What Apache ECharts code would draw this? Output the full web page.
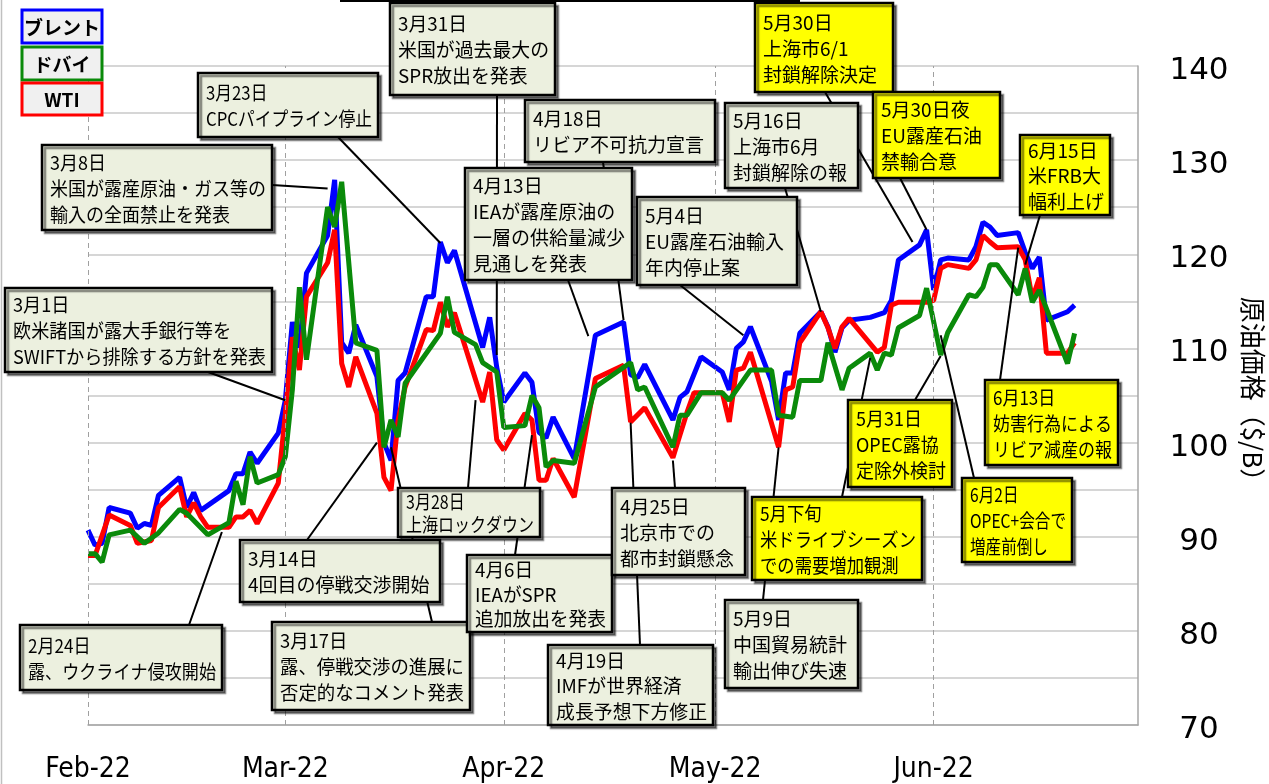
<!DOCTYPE html>
<html>
<head>
<meta charset="utf-8">
<script src="https://cdn.jsdelivr.net/npm/echarts@6/dist/echarts.min.js"></script>
<style>
  html, body { margin: 0; padding: 0; background: #fff; }
  #chart { width: 1269px; height: 784px; }
</style>
</head>
<body>
<div id="chart"></div>
<script>
const YEAR = '2022-';
const seriesNames = ['ブレント', 'ドバイ', 'WTI'];
const monthStarts = ['02-01', '03-01', '04-01', '05-01', '06-01'];
const monthLabels = ['Feb-22', 'Mar-22', 'Apr-22', 'May-22', 'Jun-22'];
const yLabels = [70, 80, 90, 100, 110, 120, 130, 140];

const brentDates = ['02-01','02-02','02-03','02-04','02-07','02-08','02-09','02-10','02-11','02-14','02-15','02-16','02-17','02-21','02-22','02-23','02-24','02-25','02-28',
  '03-01','03-02','03-03','03-04','03-07','03-08','03-09','03-10','03-11','03-14','03-15','03-16','03-17','03-18','03-21','03-22','03-23','03-24','03-25','03-29','03-30','03-31',
  '04-01','04-04','04-05','04-06','04-07','04-08','04-11','04-14','04-18','04-19','04-20','04-21','04-25','04-26','04-27','04-29',
  '05-02','05-03','05-04','05-05','05-06','05-09','05-10','05-11','05-12','05-13','05-16','05-17','05-18','05-19','05-20','05-23','05-25','05-26','05-27','05-30','05-31',
  '06-01','06-02','06-03','06-06','06-07','06-08','06-09','06-10','06-13','06-14','06-15','06-16','06-17','06-20','06-21'];
const brentValues = [90.7,89.1,89.3,93.1,92.5,90.9,91.4,91.2,94.4,96.3,93.1,94.7,92.8,94.9,96.7,96.7,99.0,97.8,101.0,
  104.5,112.8,110.1,118.0,122.0,127.9,110.6,109.5,112.5,107.0,100.0,98.1,106.6,107.4,115.5,115.5,121.3,119.1,120.4,110.1,113.3,108.0,
  104.3,107.4,106.4,101.1,100.5,102.7,98.3,111.4,112.8,107.2,106.9,108.3,102.4,104.8,105.4,109.1,
  107.5,105.6,110.0,110.7,112.3,106.5,102.4,107.4,107.4,111.6,113.9,112.3,109.6,112.2,113.0,113.3,113.8,115.1,119.4,121.0,122.6,
  116.2,119.4,119.6,119.4,120.8,123.4,122.9,122.0,122.3,120.2,118.5,119.7,113.0,113.9,114.6];

const dubaiDates = ['02-01','02-02','02-03','02-04','02-07','02-09','02-11','02-14','02-15','02-18','02-21','02-22','02-23','02-24','02-25','02-28',
  '03-01','03-02','03-03','03-04','03-07','03-08','03-09','03-11','03-14','03-15','03-16','03-17','03-18','03-23','03-24','03-25','03-28','03-29','03-31',
  '04-01','04-04','04-05','04-06','04-07','04-08','04-11','04-14','04-19','04-20','04-21','04-25','04-26','04-27','04-29',
  '05-02','05-03','05-06','05-09','05-10','05-12','05-13','05-16','05-17','05-19','05-20','05-23','05-24','05-25','05-26','05-27','05-30','05-31',
  '06-02','06-03','06-06','06-07','06-08','06-09','06-10','06-13','06-14','06-15','06-16','06-20','06-21'];
const dubaiValues = [88.2,88.2,87.3,90.2,90.7,89.3,90.4,92.9,92.5,90.2,91.5,95.9,93.4,98.5,95.7,96.6,
  98.5,105.6,116.5,108.8,125.0,122.9,127.7,110.6,109.8,99.5,102.4,100.6,106.3,111.6,115.5,111.7,110.4,108.5,107.5,
  101.6,101.8,105.0,103.7,97.4,98.1,97.8,105.9,108.5,105.6,105.9,99.5,102.9,102.9,105.3,
  105.3,104.5,107.7,107.7,102.9,102.7,106.6,106.6,110.6,105.6,107.9,109.5,107.7,109.5,109.3,112.2,113.5,116.4,
  109.3,111.7,115.7,115.5,116.5,118.9,118.9,115.7,118.5,114.9,116.2,108.4,111.6];

const wtiDates = ['02-01','02-02','02-04','02-07','02-08','02-10','02-11','02-14','02-15','02-16','02-17','02-18','02-21','02-22','02-23','02-24','02-25','02-28',
  '03-01','03-02','03-03','03-04','03-07','03-08','03-09','03-10','03-11','03-14','03-15','03-16','03-17','03-18','03-21','03-22','03-23','03-24','03-25','03-29','03-30','03-31',
  '04-01','04-04','04-05','04-06','04-07','04-08','04-11','04-14','04-18','04-19','04-21','04-25','04-26','04-27','04-28',
  '05-02','05-03','05-04','05-05','05-06','05-10','05-11','05-12','05-13','05-16','05-17','05-18','05-19','05-20','05-24','05-25','05-26','05-27','05-31',
  '06-01','06-02','06-03','06-06','06-07','06-08','06-09','06-10','06-13','06-14','06-15','06-16','06-17','06-20','06-21'];
const wtiValues = [88.0,88.0,92.3,91.2,89.3,89.6,93.1,95.3,92.1,93.6,92.1,91.0,91.0,92.1,92.1,92.8,91.4,95.7,
  103.0,111.2,107.7,115.5,119.1,122.6,108.4,105.9,109.1,103.1,96.3,94.9,102.4,105.9,112.0,111.9,114.9,112.3,113.8,104.3,107.5,100.3,
  99.2,103.1,102.4,96.0,96.0,98.3,94.2,106.8,108.2,102.2,103.7,98.4,100.8,103.2,105.3,
  105.3,102.2,107.7,107.9,109.6,99.5,105.6,105.9,110.6,113.9,112.2,110.0,112.3,113.2,109.6,110.1,114.6,114.9,114.9,
  115.1,118.5,118.9,118.5,119.4,122.0,121.3,120.7,120.8,119.4,115.3,117.5,109.5,109.5,110.6];

// annotation texts and the point each one refers to
const annoTexts = [
  '2月24日\n露、ウクライナ侵攻開始',
  '3月1日\n欧米諸国が露大手銀行等を\nSWIFTから排除する方針を発表',
  '3月8日\n米国が露産原油・ガス等の\n輸入の全面禁止を発表',
  '3月14日\n4回目の停戦交渉開始',
  '3月17日\n露、停戦交渉の進展に\n否定的なコメント発表',
  '3月23日\nCPCパイプライン停止',
  '3月28日\n上海ロックダウン',
  '3月31日\n米国が過去最大の\nSPR放出を発表',
  '4月6日\nIEAがSPR\n追加放出を発表',
  '4月13日\nIEAが露産原油の\n一層の供給量減少\n見通しを発表',
  '4月18日\nリビア不可抗力宣言',
  '4月19日\nIMFが世界経済\n成長予想下方修正',
  '4月25日\n北京市での\n都市封鎖懸念',
  '5月4日\nEU露産石油輸入\n年内停止案',
  '5月9日\n中国貿易統計\n輸出伸び失速',
  '5月16日\n上海市6月\n封鎖解除の報',
  '5月下旬\n米ドライブシーズン\nでの需要増加観測',
  '5月30日\n上海市6/1\n封鎖解除決定',
  '5月30日夜\nEU露産石油\n禁輸合意',
  '5月31日\nOPEC露協\n定除外検討',
  '6月2日\nOPEC+会合で\n増産前倒し',
  '6月13日\n妨害行為による\nリビア減産の報',
  '6月15日\n米FRB大\n幅利上げ'
];
const annoTargets = [
  ['02-20', 90.5], ['03-01', 104.5], ['03-07', 127.0], ['03-14', 100.0], ['03-16', 99.5],
  ['03-23', 121.2], ['03-28', 104.5], ['03-31', 109.3], ['04-05', 100.8], ['04-13', 111.3],
  ['04-18', 113.0], ['04-19', 102.1], ['04-25', 98.1], ['05-05', 111.4], ['05-10', 99.5],
  ['05-16', 113.9], ['05-23', 109.0], ['05-29', 121.3], ['05-31', 122.6], ['06-02', 109.2],
  ['06-02', 111.4], ['06-13', 120.7], ['06-14', 118.9]
];

// layout: box x, y, w, h, connector start x, y, yellow fill
const annoLayout = [
  [20, 625, 202, 65, 189, 625, 0],
  [5, 288, 267, 84, 208, 372, 0],
  [42, 145, 230, 85, 272, 185, 0],
  [240, 540, 200, 62, 307, 540, 0],
  [272, 622, 198, 88, 432, 622, 0],
  [198, 73, 180, 64, 338, 137, 0],
  [398, 488, 142, 49, 468, 488, 0],
  [390, 3, 165, 92, 497, 95, 0],
  [467, 555, 145, 77, 515, 555, 0],
  [465, 168, 167, 112, 568, 280, 0],
  [525, 100, 190, 62, 603, 162, 0],
  [548, 645, 165, 80, 640, 645, 0],
  [612, 488, 133, 87, 675, 488, 0],
  [637, 197, 160, 88, 680, 285, 0],
  [725, 600, 133, 88, 763, 600, 0],
  [725, 103, 133, 85, 785, 188, 0],
  [752, 497, 170, 83, 842, 497, 1],
  [755, 3, 138, 89, 825, 92, 1],
  [873, 92, 127, 86, 900, 178, 1],
  [848, 400, 104, 87, 915, 400, 1],
  [962, 478, 110, 84, 974, 478, 1],
  [985, 380, 133, 85, 1000, 380, 1],
  [1020, 135, 90, 80, 1040, 215, 1]
];

const ts = d => echarts.number.parseDate(YEAR + d).getTime();
const pairs = (dates, vals) => dates.map((d, i) => [ts(d), vals[i]]);
const monthTs = monthStarts.map(ts);

const lineSeries = (name, color, dates, vals) => ({
  name: name,
  type: 'line',
  data: pairs(dates, vals),
  symbol: 'none',
  lineStyle: { color: color, width: 5 },
  itemStyle: { color: color },
  silent: true
});

const option = {
  animation: false,
  grid: { left: 88, right: 131, top: 66, bottom: 59, containLabel: false, outerBoundsMode: 'none' },
  xAxis: {
    type: 'value',
    min: ts('02-01'),
    max: ts('06-30'),
    axisLine: { show: true, lineStyle: { color: '#a6a6a6', width: 1.5 } },
    axisTick: { show: false },
    splitLine: { show: false },
    axisLabel: {
      customValues: monthTs,
      margin: 31,
      fontSize: 28,
      fontFamily: '"Liberation Sans Narrow", "DejaVu Sans Condensed", "Liberation Sans", sans-serif',
      color: '#000',
      formatter: v => {
        const i = monthTs.indexOf(v);
        return i >= 0 ? monthLabels[i] : '';
      }
    }
  },
  yAxis: {
    type: 'value',
    position: 'right',
    min: 70,
    max: 140,
    interval: 5,
    axisLine: { show: true, lineStyle: { color: '#a6a6a6', width: 1.5 } },
    axisTick: { show: false },
    splitLine: { lineStyle: { color: '#c8c8c8', width: 1.5 } },
    axisLabel: {
      margin: 61,
      align: 'center',
      verticalAlign: 'top',
      lineHeight: 10,
      fontSize: 31,
      fontFamily: '"DejaVu Sans", sans-serif',
      color: '#000',
      formatter: v => yLabels.includes(v) ? String(v) : ''
    },
    name: '原油価格（$/B）',
    nameLocation: 'middle',
    nameRotate: -90,
    nameGap: 98,
    nameTextStyle: { fontSize: 26, fontFamily: '"Noto Sans CJK JP"', color: '#000' }
  },
  series: [
    {
      type: 'line',
      data: [],
      z: 1,
      silent: true,
      markLine: {
        silent: true,
        symbol: ['none', 'none'],
        label: { show: false },
        lineStyle: { color: '#a0a0a0', width: 1, type: [5, 4] },
        data: monthTs.map(t => ({ xAxis: t }))
      }
    },
    lineSeries(seriesNames[0], '#0000ff', brentDates, brentValues),
    lineSeries(seriesNames[2], '#ff0000', wtiDates, wtiValues),
    lineSeries(seriesNames[1], '#0a8a0a', dubaiDates, dubaiValues)
  ]
};

const chart = echarts.init(document.getElementById('chart'));
chart.setOption(option);

const BOX_FONT = 19;
const ctx = document.createElement('canvas').getContext('2d');
ctx.font = BOX_FONT + 'px "Noto Sans CJK JP"';
const widest = lines => Math.max.apply(null, lines.map(l => ctx.measureText(l).width));

const graphics = [];
// frame remnants
graphics.push({ type: 'line', silent: true, z: 90, shape: { x1: 1.5, y1: 0, x2: 1.5, y2: 784 }, style: { stroke: '#c0c0c0', lineWidth: 1.5 } });
graphics.push({ type: 'line', silent: true, z: 90, shape: { x1: 340, y1: 1, x2: 800, y2: 1 }, style: { stroke: '#000', lineWidth: 2 } });

// connectors
annoLayout.forEach((L, i) => {
  const t = annoTargets[i];
  const p = chart.convertToPixel({ gridIndex: 0 }, [ts(t[0]), t[1]]);
  graphics.push({
    type: 'line', silent: true, z: 100,
    shape: { x1: L[4], y1: L[5], x2: p[0], y2: p[1] },
    style: { stroke: '#000', lineWidth: 2 }
  });
});

// boxes
annoLayout.forEach((L, i) => {
  const lines = annoTexts[i].split('\n');
  const sx = Math.min(1, (L[2] - 14) / widest(lines));
  graphics.push({
    type: 'rect', silent: true, z: 110,
    shape: { x: L[0], y: L[1], width: L[2], height: L[3] },
    style: {
      fill: L[6] ? '#ffff00' : '#ecf0df',
      stroke: '#000', lineWidth: 2.5,
      shadowColor: 'rgba(0,0,0,0.45)', shadowOffsetX: 3, shadowOffsetY: 3, shadowBlur: 1
    }
  });
  graphics.push({
    type: 'text', silent: true, z: 111,
    x: L[0] + 8,
    y: L[1] + L[3] / 2 + 1,
    scaleX: sx,
    style: {
      text: annoTexts[i],
      x: 0, y: 0,
      align: 'left',
      verticalAlign: 'middle',
      font: BOX_FONT + 'px "Noto Sans CJK JP"',
      lineHeight: Math.min(26, (L[3] - 4) / lines.length),
      fill: '#000'
    }
  });
});

// legend boxes
const legendColors = ['#0000ff', '#0a8a0a', '#ff0000'];
const legendBoxes = [[22, 10, 80, 33], [22, 47, 80, 33], [22, 83, 80, 32]];
seriesNames.forEach((n, i) => {
  const b = legendBoxes[i];
  graphics.push({
    type: 'rect', silent: true, z: 110,
    shape: { x: b[0], y: b[1], width: b[2], height: b[3] },
    style: { fill: '#f0f0f0', stroke: legendColors[i], lineWidth: 3 }
  });
  graphics.push({
    type: 'text', silent: true, z: 111,
    style: {
      text: n, x: b[0] + b[2] / 2, y: b[1] + b[3] / 2 + 1,
      align: 'center', verticalAlign: 'middle',
      font: 'bold 19px "Noto Sans CJK JP"', fill: '#000'
    }
  });
});

chart.setOption({ graphic: graphics });
</script>
</body>
</html>
